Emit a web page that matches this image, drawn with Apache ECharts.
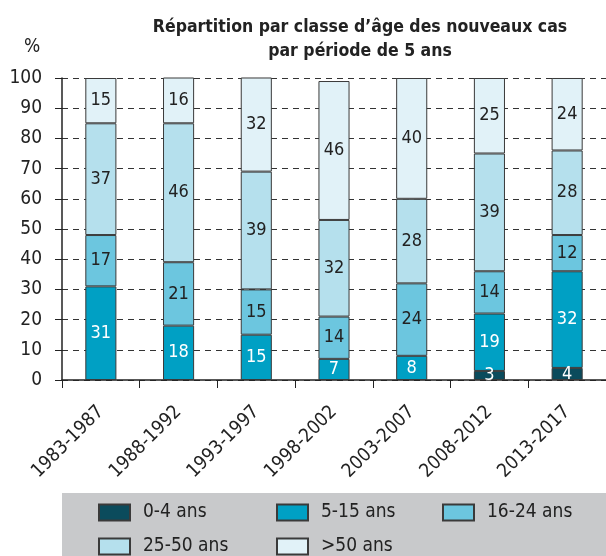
<!DOCTYPE html>
<html>
<head>
    <meta charset="UTF-8" />
    <title>Répartition par classe d'âge</title>
    <script src="https://cdn.jsdelivr.net/npm/echarts@6/dist/echarts.min.js"></script>
    <style>
        html, body { margin: 0; padding: 0; background: #fff; }
        #chart { width: 606px; height: 556px; }
    </style>
</head>
<body>
    <div id="chart"></div>
    <script type="text/javascript">
        // périodes et parts (%) par classe d'âge
        let periods = ['1983-1987', '1988-1992', '1993-1997', '1998-2002', '2003-2007', '2008-2012', '2013-2017'];
        let age0_4 = [null, null, null, null, null, 3, 4];
        let age5_15 = [31, 18, 15, 7, 8, 19, 32];
        let age16_24 = [17, 21, 15, 14, 24, 14, 12];
        let age25_50 = [37, 46, 39, 32, 28, 39, 28];
        let age50plus = [15, 16, 32, 46, 40, 25, 24];
        let yTicks = [0, 10, 20, 30, 40, 50, 60, 70, 80, 90, 100];

        let font = "'DejaVu Sans Condensed', 'Liberation Sans', sans-serif";

        let makeSeries = (name, data, color, textColor) => {
            return {
                name: name,
                type: 'bar',
                stack: 'total',
                barWidth: '40%',
                data: data,
                itemStyle: { color: color, borderColor: '#3a3a3a', borderWidth: 1 },
                label: {
                    show: true,
                    position: 'inside',
                    color: textColor,
                    fontFamily: font,
                    fontSize: 18
                },
                emphasis: { disabled: true }
            };
        };

        let series = [
            makeSeries('0-4 ans', age0_4, '#0b4b5c', '#ffffff'),
            makeSeries('5-15 ans', age5_15, '#00a0c4', '#ffffff'),
            makeSeries('16-24 ans', age16_24, '#6cc6df', '#222222'),
            makeSeries('25-50 ans', age25_50, '#b5e0ed', '#222222'),
            makeSeries('>50 ans', age50plus, '#e1f2f8', '#222222')
        ];

        // une légende par élément pour les placer comme sur l'original
        let legendPos = [
            ['0-4 ans', 98, 503],
            ['5-15 ans', 276, 503],
            ['16-24 ans', 442, 503],
            ['25-50 ans', 98, 537],
            ['>50 ans', 276, 537]
        ];
        let legends = legendPos.map(p => ({
            data: [{ name: p[0], icon: 'rect' }],
            left: p[1],
            top: p[2],
            itemWidth: 31,
            itemHeight: 16,
            itemGap: 0,
            selectedMode: false,
            textStyle: { fontFamily: font, fontSize: 19, color: '#222', padding: [0, 0, 0, 8] },
            padding: 0
        }));

        let chart = echarts.init(document.getElementById('chart'));
        chart.setOption({
            animation: false,
            title: {
                text: 'Répartition par classe d\u2019âge des nouveaux cas\npar période de 5 ans',
                left: 355,
                textAlign: 'center',
                top: 10,
                textStyle: { fontFamily: font, fontSize: 17.5, fontWeight: 'bold', color: '#222', lineHeight: 24 }
            },
            graphic: [
                {
                    type: 'rect',
                    shape: { x: 62, y: 493, width: 544, height: 63 },
                    style: { fill: '#c8c9cb' },
                    z: -1
                },
                {
                    type: 'text',
                    left: 24,
                    top: 38,
                    style: { text: '%', fontFamily: font, fontSize: 19, fill: '#222' }
                }
            ],
            legend: legends,
            grid: { left: 62, right: -4, top: 78, bottom: 176, containLabel: false },
            xAxis: {
                type: 'category',
                data: periods,
                axisLine: { lineStyle: { color: '#222', width: 1.5 } },
                axisTick: { show: true, length: 8, lineStyle: { color: '#222' } },
                axisLabel: { rotate: 45, fontFamily: font, fontSize: 19, color: '#222', margin: 29 }
            },
            yAxis: {
                type: 'value',
                min: yTicks[0],
                max: yTicks[yTicks.length - 1],
                interval: 10,
                axisLine: { show: true, lineStyle: { color: '#222', width: 1.5 } },
                axisTick: { show: true, length: 7, lineStyle: { color: '#222' } },
                axisLabel: { fontFamily: font, fontSize: 19, color: '#222', margin: 20 },
                splitLine: { show: true, lineStyle: { color: '#333', type: [6, 5], width: 1 } }
            },
            series: series
        });
    </script>
</body>
</html>
